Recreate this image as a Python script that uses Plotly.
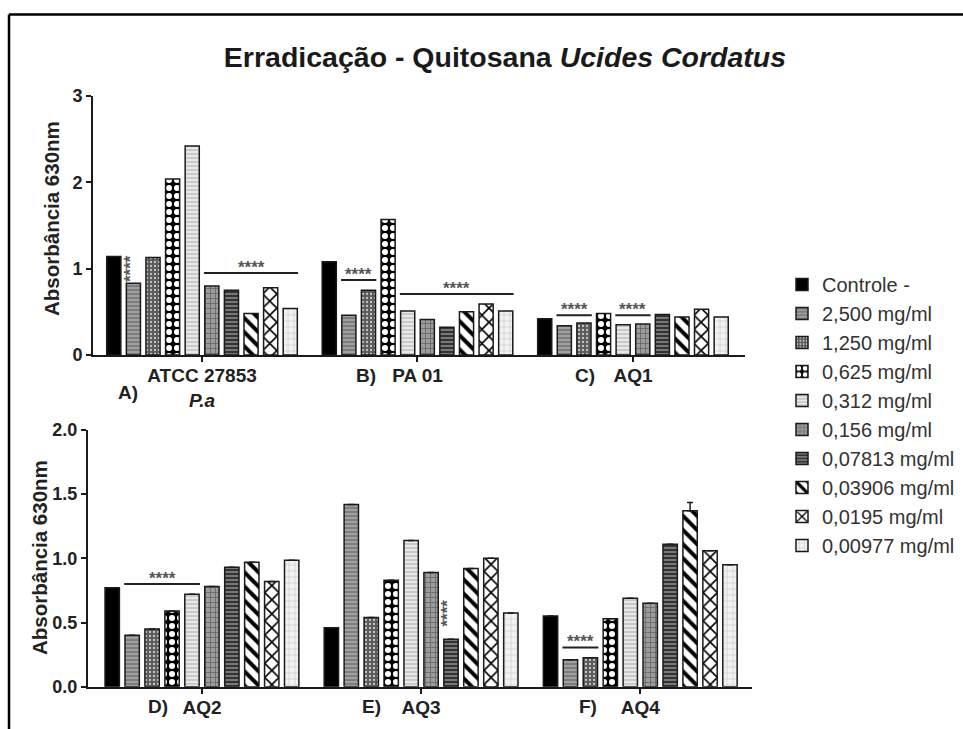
import plotly.graph_objects as go

# Concentration series (legend order)
series_labels = ["Controle -", "2,500 mg/ml", "1,250 mg/ml", "0,625 mg/ml", "0,312 mg/ml",
                 "0,156 mg/ml", "0,07813 mg/ml", "0,03906 mg/ml", "0,0195 mg/ml", "0,00977 mg/ml"]

# Strains per panel
top_strains = ["ATCC 27853<br><i>P.a</i>", "PA 01", "AQ1"]
bottom_strains = ["AQ2", "AQ3", "AQ4"]
top_letters = ["A)", "B)", "C)"]
bottom_letters = ["D)", "E)", "F)"]

# Absorbance at 630 nm, one value per concentration
atcc27853 = [1.14, 0.83, 1.13, 2.04, 2.42, 0.80, 0.75, 0.48, 0.78, 0.54]
pa01 = [1.08, 0.46, 0.75, 1.57, 0.51, 0.41, 0.32, 0.50, 0.59, 0.51]
aq1 = [0.42, 0.34, 0.37, 0.48, 0.35, 0.36, 0.47, 0.44, 0.53, 0.44]
aq2 = [0.77, 0.40, 0.45, 0.59, 0.72, 0.78, 0.93, 0.97, 0.82, 0.985]
aq3 = [0.46, 1.42, 0.54, 0.83, 1.14, 0.89, 0.37, 0.92, 1.00, 0.575]
aq4 = [0.55, 0.21, 0.225, 0.53, 0.69, 0.65, 1.11, 1.37, 1.06, 0.95]
aq4_err = [0, 0, 0, 0, 0, 0, 0, 0.065, 0, 0]

top_values = [atcc27853, pa01, aq1]
bottom_values = [aq2, aq3, aq4]
bottom_errors = [[0] * 10, [0] * 10, aq4_err]

# Fill style for each concentration: (shape, background, foreground, size, solidity)
styles = [
    ("", "#000000", "#000000", 8, 0.3),
    ("-", "#a0a0a0", "#6e6e6e", 4, 0.35),
    (".", "#5a5a5a", "#c8c8c8", 4, 0.25),
    (".", "#000000", "#ffffff", 8, 0.45),
    ("-", "#e8e8e8", "#b4b4b4", 4, 0.3),
    ("+", "#9c9c9c", "#666666", 5, 0.3),
    ("-", "#333333", "#8a8a8a", 4, 0.4),
    ("\\", "#ffffff", "#000000", 10, 0.4),
    ("x", "#ffffff", "#000000", 10, 0.3),
    ("+", "#f2f2f2", "#b8b8b8", 6, 0.15),
]

BARGAP = 0.09
N = len(series_labels)
FONT = "Liberation Sans, Arial, sans-serif"
W, H = 963, 729

fig = go.Figure()

for k, name in enumerate(series_labels):
    shape, bg, fg, size, sol = styles[k]
    pattern = dict(shape=shape, bgcolor=bg, fgcolor=fg, size=size, solidity=sol, fillmode="replace")
    marker = dict(color=bg, pattern=pattern, line=dict(color="#1a1a1a", width=1.5))
    fig.add_trace(go.Bar(
        x=[0, 1, 2], y=[v[k] for v in top_values], name=name,
        marker=marker, legendgroup=name, xaxis="x", yaxis="y",
    ))
    fig.add_trace(go.Bar(
        x=[0, 1, 2], y=[v[k] for v in bottom_values], name=name,
        marker=marker, legendgroup=name, showlegend=False, xaxis="x2", yaxis="y2",
        error_y=dict(type="data", symmetric=False, array=[e[k] for e in bottom_errors],
                     arrayminus=[0, 0, 0], color="#1a1a1a", thickness=1.5, width=3),
    ))


def bar_center(cat, k):
    return cat + (-0.5 + (k + 0.5) / N) * (1 - BARGAP)


slot = (1 - BARGAP) / N

# Significance brackets: (x axis, y axis, strain, first bar, last bar, height)
brackets = [
    ("x", "y", 0, 5, 9, 0.95),
    ("x", "y", 1, 1, 2, 0.87),
    ("x", "y", 1, 4, 9, 0.707),
    ("x", "y", 2, 1, 2, 0.46),
    ("x", "y", 2, 4, 5, 0.46),
    ("x2", "y2", 0, 1, 4, 0.80),
    ("x2", "y2", 2, 1, 2, 0.306),
]
star_font = dict(family=FONT, size=17, color="#555555", weight="bold")
for xr, yr, cat, a, b, h in brackets:
    x0 = bar_center(cat, a) - 0.4 * slot
    x1 = bar_center(cat, b) + 0.4 * slot
    fig.add_shape(type="line", xref=xr, yref=yr, x0=x0, x1=x1, y0=h, y1=h,
                  line=dict(color="#222222", width=2))
    fig.add_annotation(xref=xr, yref=yr, x=(x0 + x1) / 2, y=h, text="****",
                       showarrow=False, yanchor="bottom", yshift=-6, font=star_font)

# Single-bar significance marks (vertical stars)
single_marks = [("x", "y", 0, 1, 1.0), ("x2", "y2", 1, 6, 0.57)]
for xr, yr, cat, k, h in single_marks:
    fig.add_annotation(xref=xr, yref=yr, x=bar_center(cat, k), y=h, text="****",
                       showarrow=False, textangle=-90, xshift=-3, font=star_font)

letter_font = dict(family=FONT, size=19, color="#222")
# Panel letters beside the strain names
for i, t in enumerate(top_letters):
    offs = [-0.343, -0.241, -0.223][i]
    fig.add_annotation(xref="x", yref="paper", x=i + offs, y=1 - (392 if i == 0 else 376) / H,
                       text="<b>%s</b>" % t,
                       showarrow=False, xanchor="center", yanchor="middle", font=letter_font)
for i, t in enumerate(bottom_letters):
    offs = [-0.20, -0.228, -0.237][i]
    fig.add_annotation(xref="x2", yref="paper", x=i + offs, y=1 - 706 / H, text="<b>%s</b>" % t,
                       showarrow=False, xanchor="center", yanchor="middle", font=letter_font)

# Y axis titles
for yc, xc in [(219, 51), (558, 39)]:
    fig.add_annotation(xref="paper", yref="paper", x=xc / W, y=1 - yc / H,
                       text="<b>Absorbância 630nm</b>", textangle=-90, showarrow=False,
                       xanchor="center", yanchor="middle",
                       font=dict(family=FONT, size=20.5, color="#222"))

# Outer frame (top and left edges)
fig.add_shape(type="line", xref="paper", yref="paper", x0=9 / W, x1=1.0,
              y0=1 - 14.5 / H, y1=1 - 14.5 / H, line=dict(color="black", width=2.5))
fig.add_shape(type="line", xref="paper", yref="paper", x0=9 / W, x1=9 / W,
              y0=0, y1=1 - 14.5 / H, line=dict(color="black", width=2.5))

axis_common = dict(showline=True, linecolor="#1a1a1a", linewidth=2, ticks="outside",
                   ticklen=5, tickwidth=2, tickcolor="#1a1a1a", showgrid=False, zeroline=False,
                   automargin=False)
xtick_font = dict(family=FONT, size=19, color="#222", weight="bold")
ytick_font = dict(family=FONT, size=18, color="#222", weight="bold")

fig.update_layout(
    template="none",
    width=W, height=H, autosize=False,
    margin=dict(l=0, r=0, t=0, b=0, pad=0),
    paper_bgcolor="white", plot_bgcolor="white",
    barmode="group", bargap=BARGAP, bargroupgap=0.28,
    title=dict(text="<b>Erradicação - Quitosana <i>Ucides Cordatus</i></b>",
               x=505 / W, xanchor="center", y=1 - 57 / H, yanchor="middle",
               font=dict(family=FONT, size=28.5, color="#1a1a1a")),
    xaxis=dict(domain=[93 / W, 745 / W], range=[-0.506, 2.52], anchor="y",
               tickvals=[0, 1, 2], ticktext=top_strains, tickfont=xtick_font,
               ticklabelstandoff=-3, **axis_common),
    yaxis=dict(domain=[1 - 355 / H, 1 - 96 / H], range=[0, 3], anchor="x",
               tickvals=[0, 1, 2, 3], tickfont=ytick_font, **axis_common),
    xaxis2=dict(domain=[88 / W, 752 / W], range=[-0.52, 2.51], anchor="y2",
                tickvals=[0, 1, 2], ticktext=bottom_strains, tickfont=xtick_font,
                ticklabelstandoff=-3, **axis_common),
    yaxis2=dict(domain=[1 - 686.7 / H, 1 - 430 / H], range=[0, 2], anchor="x2",
                tickvals=[0, 0.5, 1, 1.5, 2], tickformat=".1f", tickfont=ytick_font, **axis_common),
    legend=dict(x=782 / W, xanchor="left", y=1 - 265 / H, yanchor="top",
                font=dict(family=FONT, size=20, color="#333"), traceorder="normal",
                bgcolor="rgba(0,0,0,0)", itemwidth=30),
    showlegend=True,
)

fig.write_html("out.html")
